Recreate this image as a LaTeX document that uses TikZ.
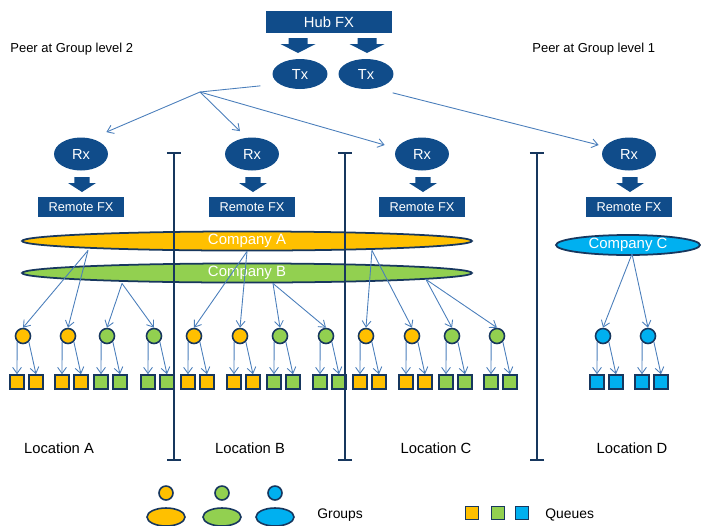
\documentclass[tikz,border=0pt]{standalone}
\usepackage{fontspec}
\setmainfont{Liberation Sans}
\usetikzlibrary{arrows.meta, shapes.geometric, positioning, calc}

\definecolor{fxblue}{RGB}{16,76,138}
\definecolor{rimblue}{RGB}{23,55,94}
\definecolor{linkblue}{RGB}{74,126,187}
\definecolor{grpgold}{RGB}{255,192,0}
\definecolor{grpgreen}{RGB}{146,208,80}
\definecolor{grpcyan}{RGB}{0,176,240}

\tikzset{
  fxbox/.style={fill=fxblue, text=white, inner sep=0pt, font=\fontsize{7.3}{8}\selectfont},
  fxoval/.style={ellipse, fill=fxblue, text=white, inner sep=0pt, font=\fontsize{8.3}{9}\selectfont},
  company/.style={ellipse, draw=rimblue, line width=1pt, text=white, inner sep=0pt,
    minimum height=0.36cm, font=\fontsize{8.5}{9}\selectfont},
  group/.style={circle, draw=rimblue, line width=0.9pt, minimum size=0.3cm, inner sep=0pt},
  queue/.style={rectangle, draw=rimblue, line width=0.9pt, minimum size=0.28cm, inner sep=0pt},
  body/.style={ellipse, draw=rimblue, line width=0.9pt, minimum width=0.76cm, minimum height=0.36cm, inner sep=0pt},
  link/.style={linkblue, line width=0.5pt, -{Straight Barb[length=3.5pt,width=5pt]}},
  sepline/.style={rimblue, line width=1.1pt, {Bar[width=8pt]}-{Bar[width=8pt]}},
  peer/.style={font=\fontsize{7.4}{9}\selectfont, inner sep=0pt},
  loclabel/.style={font=\fontsize{8.4}{10}\selectfont, inner sep=0pt},
  legtext/.style={font=\fontsize{7.9}{9}\selectfont, inner sep=0pt},
  blockdown/.pic={\fill[fxblue] (-9.5,0) -- (9.5,0) -- (9.5,6) -- (17.5,6) -- (0,15) -- (-17.5,6) -- (-9.5,6) -- cycle;}
}

\begin{document}
\begin{tikzpicture}[x=0.02cm, y=-0.02cm]
\useasboundingbox (0,0) rectangle (701,525);

\node[fxbox, minimum width=2.54cm, minimum height=0.44cm, font=\fontsize{8.4}{9}\selectfont] (hub) at (329,22) {Hub FX};
\pic at (298,38) {blockdown};
\pic at (367,38) {blockdown};
\node[fxoval, minimum width=1.1cm, minimum height=0.6cm] (tx1) at (300,74) {Tx};
\node[fxoval, minimum width=1.1cm, minimum height=0.6cm] (tx2) at (366,74) {Tx};

\node[peer, anchor=west] (peer2) at (10,49) {Peer at Group level 2};
\node[peer, anchor=west] (peer1) at (532,49) {Peer at Group level 1};

\foreach \n/\x in {A/81, B/252, C/422, D/629} {
  \node[fxoval, minimum width=1.08cm, minimum height=0.66cm] (rx\n) at (\x,154) {Rx};
  \pic[xscale=0.8] at (\x+1,177) {blockdown};
  \node[fxbox, minimum width=1.74cm, minimum height=0.4cm] (fx\n) at (\x,207) {Remote FX};
}

\coordinate (fork) at (200,92);
\draw[linkblue, line width=0.5pt] ($(tx1.south west)+(-20,1)$) -- (fork);
\draw[link] (fork) -- ($(rxA.north east)+(6,-10)$);
\draw[link] (fork) -- ($(rxB.north)+(-12,-6)$);
\draw[link] (fork) -- ($(rxC.west)+(-10,-9)$);
\draw[link] ($(tx2.south east)+(7,8)$) -- ($(rxD.west)+(-3,-9)$);

\node[company, fill=grpgold, minimum width=9cm] (coA) at (247,241) {Company A};
\node[company, fill=grpgreen, minimum width=9cm] (coB) at (247,273) {Company B};
\node[company, fill=grpcyan, minimum width=2.88cm, minimum height=0.4cm] (coC) at (628,245) {Company C};

\coordinate (aA) at ($(coA.south)+(-159,-1)$);
\coordinate (bA) at ($(coB.south)+(-125,0)$);
\coordinate (aB) at (coA.south);
\coordinate (bB) at ($(coB.south)+(26,0)$);
\coordinate (aC) at ($(coA.south)+(125,-1)$);
\coordinate (bC) at ($(coB.south)+(179,-4)$);
\coordinate (cD) at ($(coC.south)+(4,-2)$);

\foreach \n/\x/\c in {1/23/grpgold, 2/68/grpgold, 3/107/grpgreen, 4/154/grpgreen,
  5/194/grpgold, 6/240/grpgold, 7/280/grpgreen, 8/326/grpgreen,
  9/366/grpgold, 10/412/grpgold, 11/452/grpgreen, 12/497/grpgreen,
  13/603/grpcyan, 14/648/grpcyan} {
  \node[group, fill=\c] (g\n) at (\x,336) {};
  \node[queue, fill=\c] (qa\n) at ({\x-6},382) {};
  \node[queue, fill=\c] (qb\n) at ({\x+13},382) {};
  \draw[link] (g\n.south west) -- (qa\n.north);
  \draw[link] (g\n.south east) -- (qb\n.north);
}

\foreach \s/\t in {aA/1, aA/2, bA/3, bA/4, aB/5, aB/6, bB/7, bB/8,
  aC/9, aC/10, bC/11, bC/12, cD/13, cD/14}
  \draw[link] (\s) -- (g\t.north);

\foreach \x in {174,345,537}
  \draw[sepline] (\x,152) -- (\x,461);

\foreach \n/\x in {A/59, B/250, C/436, D/632}
  \node[loclabel] (loc\n) at (\x,448) {Location \n};

\foreach \n/\x/\c in {1/166/grpgold, 2/222/grpgreen, 3/275/grpcyan} {
  \node[group, fill=\c, minimum size=0.28cm] (head\n) at (\x,493) {};
  \node[body, fill=\c] (body\n) at (\x,517) {};
}
\node[legtext, anchor=west] (grplbl) at (317,515) {Groups};
\foreach \n/\x/\c in {1/472/grpgold, 2/498/grpgreen, 3/522/grpcyan}
  \node[queue, fill=\c, minimum size=0.26cm] (key\n) at (\x,513) {};
\node[legtext, anchor=west] (qlbl) at (545,515) {Queues};
\end{tikzpicture}
\end{document}
